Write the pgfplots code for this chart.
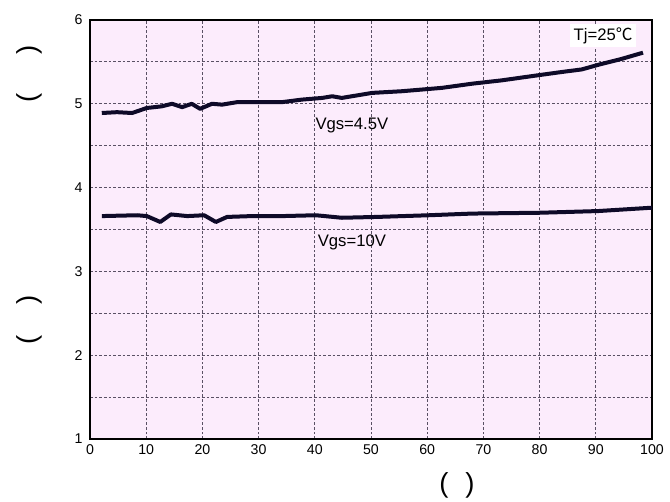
\documentclass[border=0pt]{standalone}
\usepackage{fontspec}
\setmainfont{Liberation Sans}
\newfontfamily\cjk{Noto Sans CJK SC}
\usepackage{pgfplots}
\pgfplotsset{compat=1.18}
\definecolor{bgpink}{RGB}{252,236,252}
\definecolor{gridc}{RGB}{90,80,100}
\definecolor{curvec}{RGB}{14,10,40}
\begin{document}
\begin{tikzpicture}
\path[use as bounding box] (-54pt,-37.8pt) rectangle (348pt,263.4pt);
\begin{axis}[
  at={(0,0)}, anchor=south west,
  width=337.2pt, height=251.4pt, scale only axis,
  xmin=0, xmax=100, ymin=1, ymax=6,
  xtick={0,10,...,100},
  ytick={1,1.5,...,6},
  yticklabels={1,,2,,3,,4,,5,,6},
  grid=major,
  major grid style={gridc, line width=0.5pt, dash pattern=on 1.6pt off 1.2pt},
  major tick length=0pt,
  axis line style={black, line width=0.7pt},
  axis background/.style={fill=bgpink},
  /pgf/number format/assume math mode=true,
  tick label style={font=\fontsize{8.5}{10}\selectfont},
  yticklabel style={xshift=-1pt},
  xlabel={(\hspace{10pt})},
  xlabel style={font=\fontsize{16.5}{18}\selectfont, at={(axis description cs:0.653,-0.11)}, anchor=center},
  ylabel={(\hspace{18.5pt})\hspace{115.5pt}(\hspace{23.3pt})},
  ylabel style={font=\fontsize{16.5}{18}\selectfont, at={(axis description cs:-0.107,0.582)}, anchor=center},
]
\addplot[curvec, line width=2.4pt, line join=round] coordinates {
(2.1,4.89) (4.8,4.90) (7.5,4.89) (10.1,4.95) (12.8,4.97) (14.6,5.00)
(16.4,4.96) (18.1,5.00) (19.6,4.94) (21.7,5.00) (23.5,4.99) (26.2,5.02)
(34.2,5.02) (37.7,5.05) (41.3,5.07) (43.1,5.09) (44.8,5.07) (50.2,5.13)
(55.5,5.15) (62.6,5.19) (68.0,5.24) (73.3,5.28) (78.6,5.33) (84.0,5.38)
(87.5,5.41) (90.7,5.47) (94.3,5.53) (98.4,5.61)
};
\addplot[curvec, line width=2.4pt, line join=round] coordinates {
(2.1,3.66) (8.4,3.67) (10.1,3.66) (12.5,3.59) (14.4,3.68) (17.3,3.66)
(20.3,3.67) (22.4,3.59) (24.4,3.65) (28.8,3.66) (34.2,3.66) (40.2,3.67)
(44.8,3.64) (51.1,3.65) (60.3,3.67) (68.0,3.69) (80.2,3.70) (90.4,3.72)
(100,3.76)
};
\node[font=\fontsize{10}{12}\selectfont] at (axis cs:46.6,4.74) {Vgs=4.5V};
\node[font=\fontsize{10}{12}\selectfont] at (axis cs:46.6,3.34) {Vgs=10V};
\node[font=\fontsize{10}{12}\selectfont, fill=white, inner sep=2pt] at (axis cs:91.3,5.81) {Tj=25{\cjk ℃}};
\end{axis}
\end{tikzpicture}
\end{document}
